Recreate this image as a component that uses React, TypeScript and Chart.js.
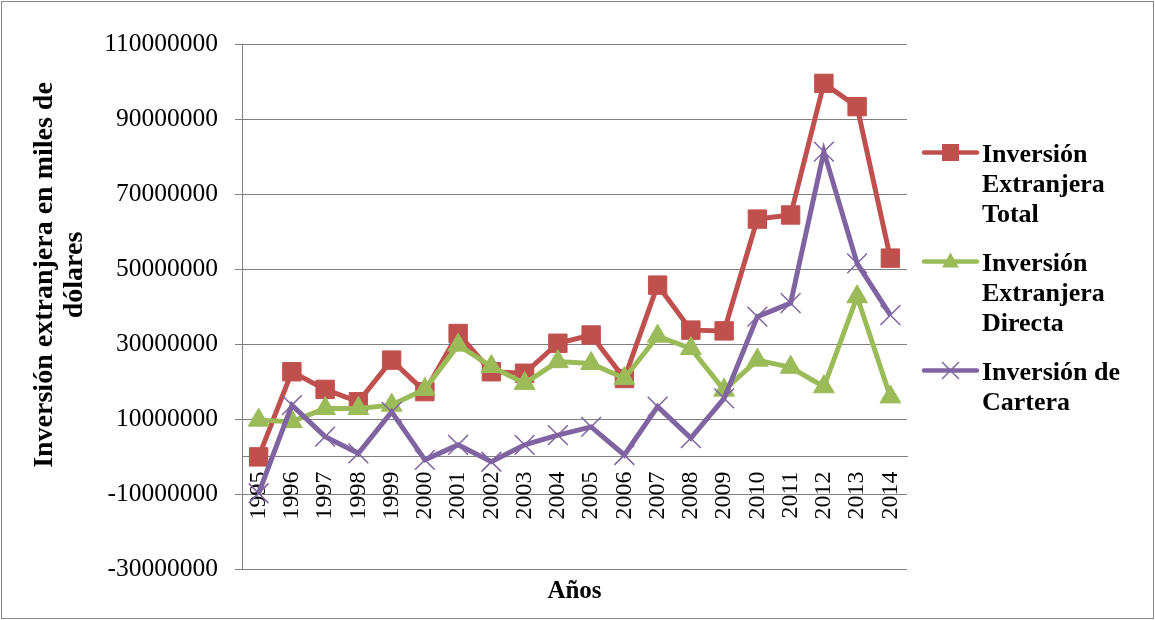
import React, { useEffect, useRef } from 'react';
import { Chart, registerables } from 'chart.js';

Chart.register(...registerables);

const years = ['1995', '1996', '1997', '1998', '1999', '2000', '2001', '2002', '2003', '2004', '2005', '2006', '2007', '2008', '2009', '2010', '2011', '2012', '2013', '2014'];

const totalInvestment = [-100000, 22600000, 17900000, 14600000, 25700000, 17300000, 32800000, 22600000, 22200000, 30200000, 32400000, 20800000, 45700000, 33700000, 33500000, 63300000, 64400000, 99500000, 93300000, 52900000];

const directInvestment = [9700000, 9300000, 12800000, 12800000, 13700000, 17900000, 29700000, 24000000, 19500000, 25300000, 24800000, 20800000, 32100000, 28800000, 17700000, 25700000, 23800000, 18600000, 42600000, 15900000];

const portfolioInvestment = [-9800000, 13700000, 5300000, 850000, 11900000, -900000, 3100000, -1400000, 3100000, 5700000, 7900000, 400000, 13300000, 4900000, 15500000, 37300000, 40900000, 81300000, 51500000, 37700000];

const seriesLabels = ['Inversión Extranjera Total', 'Inversión Extranjera Directa', 'Inversión de Cartera'];
const legendLines = [
  ['Inversión', 'Extranjera', 'Total'],
  ['Inversión', 'Extranjera', 'Directa'],
  ['Inversión de', 'Cartera'],
];
const yTitleLines = ['Inversión extranjera en miles de', 'dólares'];
const xTitle = 'Años';

const yMin = -30000000;
const yMax = 110000000;
const yStep = 20000000;

const RED = '#C0504D';
const GREEN = '#9BBB59';
const PURPLE = '#8064A2';
const GRID = '#808080';
const SERIF = '"Liberation Serif", "Times New Roman", serif';

const overlayPlugin = {
  id: 'overlay',
  afterDraw(chart: any) {
    const { ctx, chartArea } = chart;
    ctx.save();
    ctx.fillStyle = '#000';

    // Y axis title (two lines, rotated)
    ctx.save();
    ctx.font = `bold 28px ${SERIF}`;
    ctx.textAlign = 'center';
    ctx.textBaseline = 'alphabetic';
    ctx.translate(52, 275);
    ctx.rotate(-Math.PI / 2);
    yTitleLines.forEach((line, i) => ctx.fillText(line, 0, i * 30));
    ctx.restore();

    // X axis title
    ctx.font = `bold 25px ${SERIF}`;
    ctx.textAlign = 'center';
    ctx.textBaseline = 'alphabetic';
    ctx.fillText(xTitle, (chartArea.left + chartArea.right) / 2, 598);

    // Legend
    ctx.font = `bold 26px ${SERIF}`;
    ctx.textAlign = 'left';
    let baseline = 161.5;
    chart.data.datasets.forEach((ds: any, i: number) => {
      const lines = legendLines[i];
      const cy = baseline - 9;
      const x0 = chartArea.right + 17;
      const x1 = chartArea.right + 70;
      const cx = (x0 + x1) / 2;
      ctx.strokeStyle = ds.borderColor;
      ctx.lineWidth = 4.5;
      ctx.lineCap = 'round';
      ctx.beginPath();
      ctx.moveTo(x0, cy);
      ctx.lineTo(x1, cy);
      ctx.stroke();
      ctx.fillStyle = ds.borderColor;
      if (ds.pointStyle === 'rect') {
        ctx.fillRect(cx - 8.5, cy - 8.5, 17, 17);
      } else if (ds.pointStyle === 'triangle') {
        ctx.beginPath();
        ctx.moveTo(cx, cy - 9);
        ctx.lineTo(cx + 8.5, cy + 6);
        ctx.lineTo(cx - 8.5, cy + 6);
        ctx.closePath();
        ctx.fill();
      } else {
        ctx.lineWidth = 1.5;
        ctx.lineCap = 'butt';
        ctx.beginPath();
        ctx.moveTo(cx - 8.5, cy - 8.5);
        ctx.lineTo(cx + 8.5, cy + 8.5);
        ctx.moveTo(cx + 8.5, cy - 8.5);
        ctx.lineTo(cx - 8.5, cy + 8.5);
        ctx.stroke();
      }
      ctx.fillStyle = '#000';
      lines.forEach((t, j) => ctx.fillText(t, chartArea.right + 75, baseline + j * 30));
      baseline += lines.length * 30 + 19;
    });
    ctx.restore();
  },
};

export default function App() {
  const canvasRef = useRef<HTMLCanvasElement | null>(null);

  useEffect(() => {
    if (!canvasRef.current) return;
    const chart = new Chart(canvasRef.current, {
      type: 'line',
      data: {
        labels: years,
        datasets: [
          {
            label: seriesLabels[0],
            data: totalInvestment,
            borderColor: RED,
            backgroundColor: RED,
            borderWidth: 5,
            pointStyle: 'rect',
            pointRadius: 13,
            pointBorderWidth: 1,
            pointBackgroundColor: RED,
            pointBorderColor: RED,
            tension: 0,
            order: 3,
          },
          {
            label: seriesLabels[1],
            data: directInvestment,
            borderColor: GREEN,
            backgroundColor: GREEN,
            borderWidth: 5,
            pointStyle: 'triangle',
            pointRadius: 12,
            pointBorderWidth: 1,
            pointBackgroundColor: GREEN,
            pointBorderColor: GREEN,
            tension: 0,
            order: 2,
          },
          {
            label: seriesLabels[2],
            data: portfolioInvestment,
            borderColor: PURPLE,
            backgroundColor: PURPLE,
            borderWidth: 5,
            pointStyle: 'crossRot',
            pointRadius: 14,
            pointBorderWidth: 1.5,
            pointBackgroundColor: PURPLE,
            pointBorderColor: PURPLE,
            tension: 0,
            order: 1,
          },
        ],
      },
      options: {
        animation: false,
        responsive: true,
        maintainAspectRatio: false,
        events: [],
        layout: { padding: { left: 0, top: 44, right: 248, bottom: 51 } },
        plugins: {
          legend: { display: false },
          tooltip: { enabled: false },
          title: { display: false },
        },
        scales: {
          x: {
            type: 'category',
            offset: true,
            position: { y: 0 } as any,
            grid: { display: false, drawTicks: false },
            border: { display: true, color: GRID, width: 1 },
            ticks: {
              autoSkip: false,
              minRotation: 90,
              maxRotation: 90,
              padding: 15,
              color: '#000',
              font: { family: SERIF, size: 24 },
            },
          },
          y: {
            type: 'linear',
            min: yMin,
            max: yMax,
            afterFit: (scale: any) => {
              scale.width = 242;
            },
            grid: { color: GRID, lineWidth: 1, drawTicks: true, tickLength: 7, tickColor: GRID },
            border: { display: true, color: GRID, width: 1 },
            ticks: {
              stepSize: yStep,
              padding: 17,
              color: '#000',
              font: { family: SERIF, size: 25.5 },
              callback: (v: any) => String(v),
            },
          },
        },
      },
      plugins: [overlayPlugin],
    });
    return () => chart.destroy();
  }, []);

  return (
    <div style={{ position: 'absolute', left: 0, top: 0, width: 1155, height: 620, background: '#fff' }}>
      <div
        style={{
          position: 'absolute',
          left: 1,
          top: 1,
          width: 1153,
          height: 618,
          boxSizing: 'border-box',
          border: '1px solid #8a8a8a',
        }}
      />
      <div style={{ position: 'absolute', left: 0, top: 0, width: 1155, height: 620 }}>
        <canvas ref={canvasRef} />
      </div>
    </div>
  );
}
